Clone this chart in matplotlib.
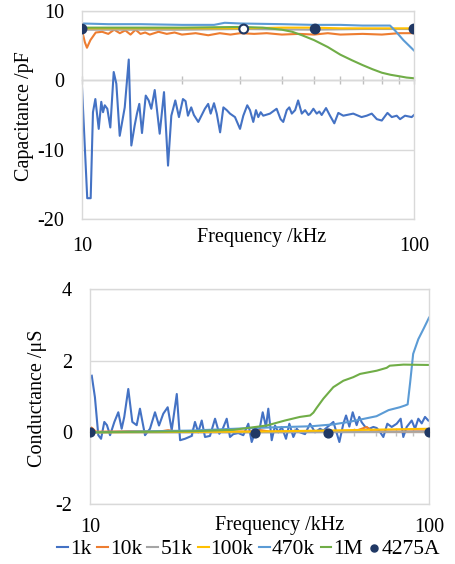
import matplotlib
matplotlib.use('Agg')
import matplotlib.pyplot as plt
from matplotlib.ticker import NullFormatter, FixedLocator

plt.rcParams['font.family'] = ['Liberation Serif', 'DejaVu Serif']

# series names and colours
names = ['1k', '10k', '51k', '100k', '470k', '1M']
colors = ['#4472C4', '#ED7D31', '#A5A5A5', '#FFC000', '#5B9BD5', '#70AD47']
ref_color = '#203864'

# ---- capacitance (pF) ----
cap_f_1k = [10.0, 10.37, 10.62, 10.79, 10.97, 11.23, 11.43, 11.57, 11.71, 11.92,
            12.17, 12.46, 12.69, 12.99, 13.45, 13.83, 14.08, 14.41, 14.64, 14.88,
            15.16, 15.56, 15.88, 16.17, 16.56, 17.14, 17.66, 18.16, 18.58, 19.10,
            19.59, 20.14, 20.51, 20.85, 21.33, 21.73, 22.40, 23.45, 23.99, 24.41,
            24.98, 25.46, 26.06, 26.66, 27.29, 27.91, 28.89, 29.92, 30.61, 31.46,
            32.06, 32.80, 33.42, 33.96, 34.53, 35.15, 36.83, 38.57, 39.65, 40.38,
            41.38, 42.11, 42.85, 43.85, 44.77, 45.92, 46.99, 48.08, 48.64, 49.77,
            50.93, 51.86, 52.72, 54.33, 55.85, 57.54, 59.16, 61.24, 65.61, 69.50,
            72.05, 74.60, 77.27, 79.98, 83.18, 85.73, 88.71, 90.78, 93.96, 98.40, 100.0]
cap_1k = [-1.0, -17.0, -17.0, -4.6, -2.7, -7.0, -3.1, -4.6, -3.6, -4.1,
          -6.8, 1.2, -0.5, -8.0, -3.9, 3.0, -9.4, -6.5, -4.8, -3.4,
          -7.6, -2.2, -2.9, -4.1, -1.4, -7.7, -1.7, -12.3, -5.1, -2.9,
          -5.3, -2.7, -3.0, -5.1, -3.9, -5.0, -6.0, -4.1, -3.4, -4.8,
          -3.3, -4.8, -7.5, -3.9, -4.3, -4.8, -5.3, -7.0, -5.1, -3.6,
          -4.3, -6.0, -4.3, -5.3, -4.6, -5.1, -4.8, -4.1, -5.6, -6.0,
          -4.3, -3.9, -4.8, -4.3, -2.9, -4.8, -4.3, -5.0, -4.8, -4.1,
          -4.8, -4.5, -5.0, -4.0, -5.1, -6.2, -4.7, -5.1, -4.8, -5.3,
          -5.1, -4.8, -5.6, -5.8, -4.7, -5.3, -5.1, -5.6, -5.1, -5.3, -5.0]

cap_f_10k = [10.0, 10.2, 10.35, 10.6, 11.0, 11.5, 12.0, 12.5, 13.0, 13.5, 14.0,
             14.5, 15.0, 15.5, 16.0, 17.0, 18.0, 19.0, 20.0, 22.0, 24.0, 26.0,
             28.0, 30.0, 33.0, 36.0, 40.0, 45.0, 50.0, 55.0, 60.0, 70.0, 80.0,
             90.0, 100.0]
cap_10k = [7.2, 5.5, 4.7, 5.8, 6.9, 7.0, 6.7, 7.3, 6.8, 7.2, 6.6,
           7.3, 6.7, 6.9, 6.6, 7.0, 6.7, 6.9, 6.6, 6.8, 6.5, 6.8,
           6.6, 6.8, 6.7, 6.8, 6.6, 6.7, 6.6, 6.8, 6.6, 6.7, 6.6,
           6.8, 6.8]

cap_f_51k = [10.0, 20.0, 30.0, 50.0, 70.0, 100.0]
cap_51k = [7.3, 7.3, 7.4, 7.3, 7.4, 7.4]

cap_f_100k = [10.0, 20.0, 30.0, 40.0, 50.0, 60.0, 80.0, 100.0]
cap_100k = [7.5, 7.5, 7.5, 7.6, 7.6, 7.5, 7.5, 7.5]

cap_f_470k = [10.0, 12.0, 15.0, 20.0, 25.0, 26.9, 30.0, 40.0, 50.0, 60.0,
              70.0, 80.0, 84.7, 88.0, 92.9, 100.0]
cap_470k = [8.2, 8.1, 8.1, 8.0, 8.0, 8.3, 8.2, 8.1, 8.0, 8.0,
            7.9, 7.9, 7.9, 7.1, 5.8, 4.3]

cap_f_1M = [10.0, 20.0, 30.0, 35.0, 40.0, 43.0, 46.0, 50.0, 55.0, 60.0,
            65.0, 70.0, 75.0, 80.0, 85.0, 90.0, 95.0, 100.0]
cap_1M = [7.6, 7.6, 7.7, 7.6, 7.3, 7.0, 6.5, 5.8, 4.8, 3.7,
          2.9, 2.2, 1.6, 1.1, 0.8, 0.6, 0.4, 0.3]

# ---- conductance (uS) ----
g_f_1k = [10.12, 10.34, 10.58, 10.78, 11.02, 11.22, 11.46, 11.80, 12.12, 12.40,
          12.62, 12.97, 13.33, 13.73, 14.04, 14.53, 15.03, 15.55, 15.98, 16.45,
          16.95, 17.42, 18.03, 18.44, 19.06, 19.95, 20.40, 20.86, 21.36, 21.84,
          22.59, 23.38, 24.07, 24.64, 25.31, 25.88, 26.47, 27.38, 28.33, 29.31,
          29.99, 30.67, 31.37, 32.32, 33.05, 33.57, 34.36, 35.14, 35.94, 36.78,
          37.86, 38.73, 39.79, 40.72, 41.64, 43.08, 44.57, 46.11, 47.70, 48.78,
          52.23, 54.40, 55.89, 56.93, 58.21, 59.56, 61.18, 62.28, 63.32, 64.75,
          66.67, 68.52, 70.11, 71.71, 73.33, 75.34, 77.62, 80.29, 82.50, 83.98,
          85.93, 88.92, 90.95, 93.00, 95.17, 97.32, 99.54]
g_1k = [1.58, 0.98, -0.08, -0.18, 0.29, 0.20, -0.08, 0.29, 0.56, 0.10,
        0.43, 1.21, 0.29, 0.20, 0.66, -0.08, 0.10, 0.56, 0.19, 0.52,
        0.70, 0.06, 1.07, -0.22, -0.18, -0.10, 0.29, 0.00, 0.33, -0.13,
        -0.10, 0.38, -0.04, 0.10, 0.38, -0.13, -0.05, -0.02, -0.08, 0.24,
        -0.27, 0.00, -0.10, 0.56, 0.15, 0.66, -0.22, 0.19, 0.00, 0.15,
        -0.18, 0.24, -0.13, 0.10, 0.00, -0.05, 0.24, 0.00, 0.10, 0.05,
        0.29, -0.27, 0.24, 0.47, 0.16, 0.56, 0.20, 0.43, 0.28, 0.16,
        0.10, 0.15, 0.12, 0.01, -0.13, 0.24, 0.15, 0.24, 0.38, -0.13,
        0.15, 0.33, 0.10, 0.38, 0.25, 0.43, 0.33]

g_f_10k = [10.0, 10.15, 10.4, 11.0, 13.0, 16.0, 17.0, 18.0, 22.0, 30.0,
           32.0, 34.0, 45.0, 60.0, 65.5, 68.0, 80.0, 100.0]
g_10k = [0.15, 0.12, 0.02, 0.02, 0.03, 0.02, 0.06, 0.02, 0.03, 0.02,
         0.06, 0.02, 0.03, 0.02, 0.15, 0.03, 0.02, 0.03]

g_f_51k = [10.0, 30.0, 60.0, 100.0]
g_51k = [0.0, 0.0, 0.01, 0.02]

g_f_100k = [10.0, 30.0, 50.0, 75.0, 100.0]
g_100k = [0.0, 0.02, 0.05, 0.08, 0.1]

g_f_470k = [10.0, 20.0, 30.0, 45.0, 52.0, 58.0, 70.0, 76.0, 82.0, 85.0,
            86.5, 88.0, 89.8, 93.0, 96.5, 100.0]
g_470k = [0.0, 0.05, 0.12, 0.17, 0.22, 0.29, 0.45, 0.62, 0.70, 0.75,
          0.78, 1.40, 2.19, 2.60, 2.90, 3.20]

g_f_1M = [10.0, 20.0, 26.45, 33.2, 37.6, 41.6, 44.6, 45.6, 46.6, 48.8,
          52.2, 55.9, 59.8, 62.6, 70.1, 75.0, 76.6, 84.1, 100.0]
g_1M = [0.0, 0.03, 0.07, 0.19, 0.33, 0.43, 0.47, 0.55, 0.68, 0.94,
        1.26, 1.44, 1.54, 1.63, 1.72, 1.80, 1.86, 1.89, 1.88]

# 4275A reference meter
ref_f = [10.0, 30.7, 50.4, 100.0]
ref_cap = [7.4, 7.4, 7.4, 7.4]
ref_g = [0.0, -0.02, -0.02, 0.02]
ref_face = [ref_color, 'white', ref_color, ref_color]

cap_series = [(cap_f_1k, cap_1k), (cap_f_10k, cap_10k), (cap_f_51k, cap_51k),
              (cap_f_100k, cap_100k), (cap_f_470k, cap_470k), (cap_f_1M, cap_1M)]
g_series = [(g_f_1k, g_1k), (g_f_10k, g_10k), (g_f_51k, g_51k),
            (g_f_100k, g_100k), (g_f_470k, g_470k), (g_f_1M, g_1M)]

grid_c = '#D9D9D9'
axis_c = '#BFBFBF'
fs = 14.5

fig = plt.figure(figsize=(4.56, 5.64), dpi=100)
ax1 = fig.add_axes([82 / 456, 1 - 219 / 564, 332 / 456, 208 / 564])
ax2 = fig.add_axes([90 / 456, 1 - 504 / 564, 339 / 456, 215 / 564])


def style_axis(ax, ylim, yticks, xpad):
    ax.set_xscale('log')
    ax.set_xlim(10, 100)
    ax.set_ylim(*ylim)
    ax.set_yticks(yticks)
    ax.set_yticklabels([str(t) for t in yticks])
    ax.set_xticks([10, 100])
    ax.set_xticklabels(['10', '100'])
    ax.xaxis.set_minor_formatter(NullFormatter())
    ax.tick_params(axis='x', which='both', length=0, pad=xpad, labelsize=fs)
    ax.tick_params(axis='y', length=0, pad=13, labelsize=fs)
    ax.grid(axis='y', color=grid_c, lw=1.0)
    ax.set_axisbelow(True)
    for sp in ax.spines.values():
        sp.set_color(grid_c)
        sp.set_linewidth(1.0)
    # horizontal axis running along zero
    sec = ax.secondary_xaxis(0, transform=ax.transData)
    sec.xaxis.set_major_locator(FixedLocator([10, 100]))
    sec.xaxis.set_minor_locator(FixedLocator([20, 30, 40, 50, 60, 70, 80, 90]))
    sec.tick_params(axis='x', which='both', direction='inout', length=6,
                    color=axis_c, width=1.0, labelbottom=False)
    sec.spines['bottom'].set_color(axis_c)
    sec.spines['bottom'].set_linewidth(1.0)


style_axis(ax1, (-20, 10), [-20, -10, 0, 10], 13)
style_axis(ax2, (-2, 4), [-2, 0, 2, 4], 10)

handles = []
for (f, v), c, n in zip(cap_series, colors, names):
    h, = ax1.plot(f, v, color=c, lw=1.5, label=n)
    handles.append(h)
ax1.scatter(ref_f, ref_cap, s=40, facecolors=ref_face, edgecolors=ref_color,
            linewidths=1.5, zorder=5)

for (f, v), c in zip(g_series, colors):
    ax2.plot(f, v, color=c, lw=1.5)
ref_h = ax2.scatter(ref_f, ref_g, s=40, color=ref_color, zorder=5, label='4275A')
handles.append(ref_h)

ax1.text(0.54, -0.09, 'Frequency /kHz', transform=ax1.transAxes,
         ha='center', va='center', fontsize=fs)
ax2.text(0.56, -0.10, 'Frequency /kHz', transform=ax2.transAxes,
         ha='center', va='center', fontsize=fs)
fig.text(25 / 456, 1 - 116 / 564, 'Capacitance /pF', rotation=90,
         ha='center', va='center', fontsize=fs)
fig.text(38 / 456, 1 - 398 / 564, 'Conductance /μS', rotation=90,
         ha='center', va='center', fontsize=fs)

fig.legend(handles=handles, labels=names + ['4275A'], loc='center',
           bbox_to_anchor=(0.545, 1 - 549 / 564), ncol=7, frameon=False,
           fontsize=15.5, handlelength=0.5, handletextpad=0.1,
           columnspacing=0.25, borderpad=0, markerscale=0.8)

fig.savefig('out.png', dpi=100)
